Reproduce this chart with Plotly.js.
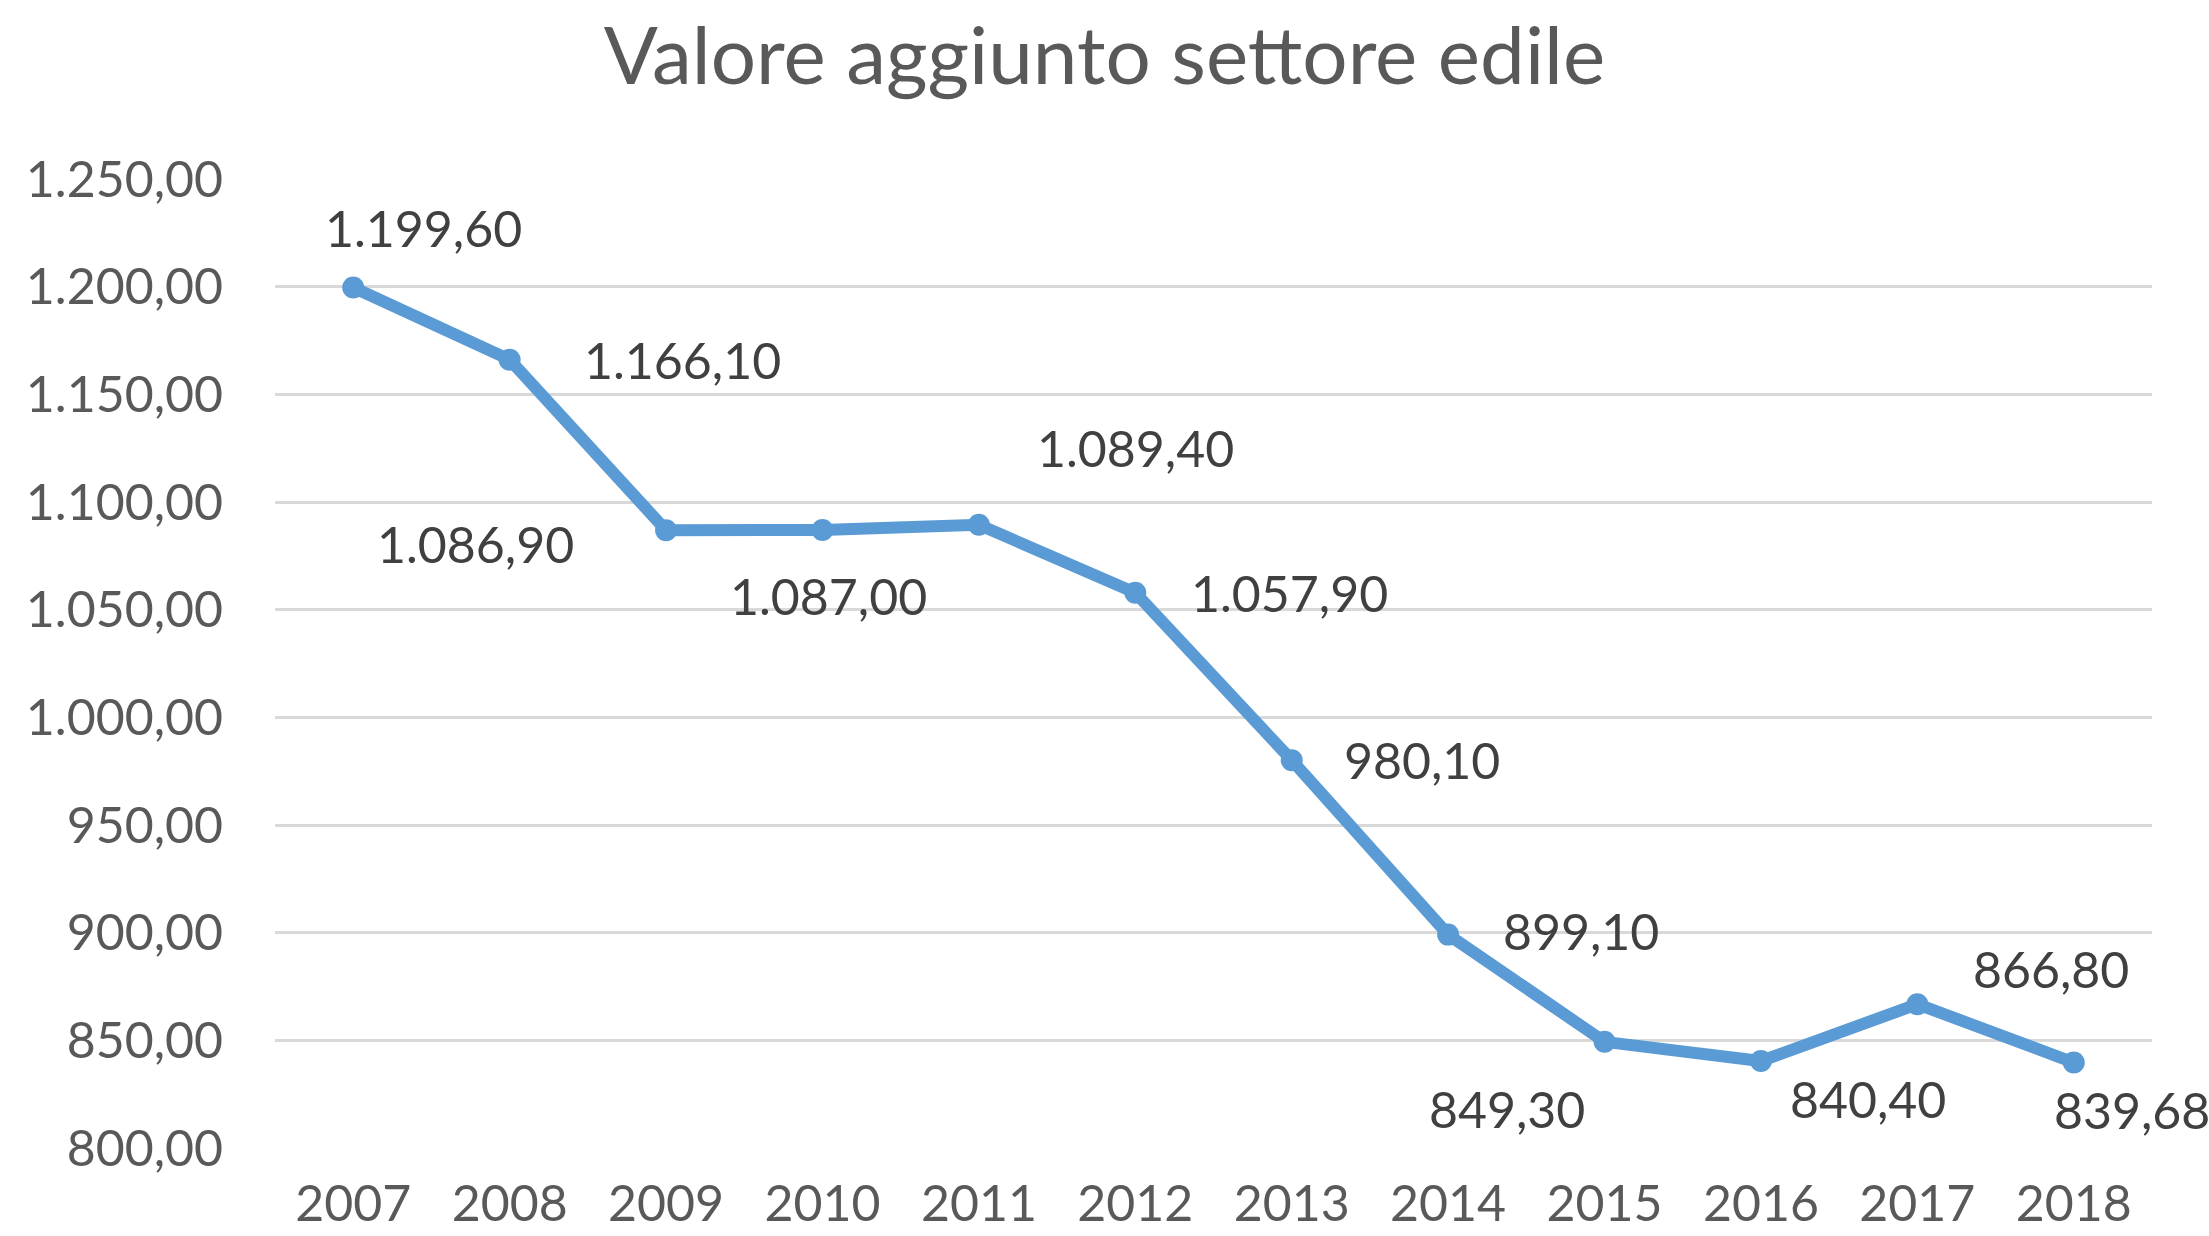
<!DOCTYPE html>
<html>
<head>
<meta charset="utf-8">
<script src="https://cdn.plot.ly/plotly-3.0.1.min.js"></script>
<style>html,body{margin:0;padding:0;background:#fff;}#chart{width:2209px;height:1236px;}</style>
</head>
<body>
<div id="chart"></div>
<script>
// Data
const years = ["2007","2008","2009","2010","2011","2012","2013","2014","2015","2016","2017","2018"];
const values = [1199.60, 1166.10, 1086.90, 1087.00, 1089.40, 1057.90, 980.10, 899.10, 849.30, 840.40, 866.80, 839.68];
const yTicks = [800, 850, 900, 950, 1000, 1050, 1100, 1150, 1200, 1250];

// Label placement offsets in pixels (relative to each point)
const labelDx = [70, 173, -191, 6, 157, 154, 130, 133, -98, 107, 134, 58];
const labelDy = [60, 0, -14, -66, 77, 0, 0, 4, -67, -38, 35, -47];

function fmtIt(v) {
  const parts = v.toFixed(2).split(".");
  const intPart = parts[0].replace(/\B(?=(\d{3})+(?!\d))/g, ".");
  return intPart + "," + parts[1];
}

const FONT = "Lato, 'Open Sans', sans-serif";

const trace = {
  type: "scatter",
  mode: "lines+markers",
  x: years,
  y: values,
  line: {color: "#5B9BD5", width: 12},
  marker: {color: "#5B9BD5", size: 22},
  hoverinfo: "x+y",
  showlegend: false
};

const annotations = values.map((v, i) => ({
  x: i, y: v, xref: "x", yref: "y",
  text: fmtIt(v), showarrow: false,
  xshift: labelDx[i], yshift: labelDy[i],
  font: {family: FONT, size: 50, color: "#404040"},
  xanchor: "center", yanchor: "middle"
}));

const layout = {
  width: 2209, height: 1236,
  paper_bgcolor: "#ffffff", plot_bgcolor: "#ffffff",
  separators: ",.",
  margin: {l: 275, r: 57, t: 179, b: 88},
  title: {
    text: "Valore aggiunto settore edile",
    font: {family: FONT, size: 80, color: "#595959"},
    x: 0.5, xref: "container", xanchor: "center",
    y: 0.955, yref: "container", yanchor: "middle"
  },
  xaxis: {
    type: "category",
    range: [-0.5, 11.5],
    showgrid: false, zeroline: false, showline: false,
    ticks: "",
    tickfont: {family: FONT, size: 50, color: "#595959"},
    ticklabelstandoff: 22
  },
  yaxis: {
    range: [800, 1250],
    tickvals: yTicks,
    tickformat: ",.2f",
    showgrid: true, gridcolor: "#D9D9D9", gridwidth: 3,
    zeroline: false, showline: false, ticks: "",
    tickfont: {family: FONT, size: 50, color: "#595959"},
    ticklabelstandoff: 51
  },
  annotations: annotations
};

Plotly.newPlot("chart", [trace], layout, {staticPlot: true, displayModeBar: false});
</script>
</body>
</html>
